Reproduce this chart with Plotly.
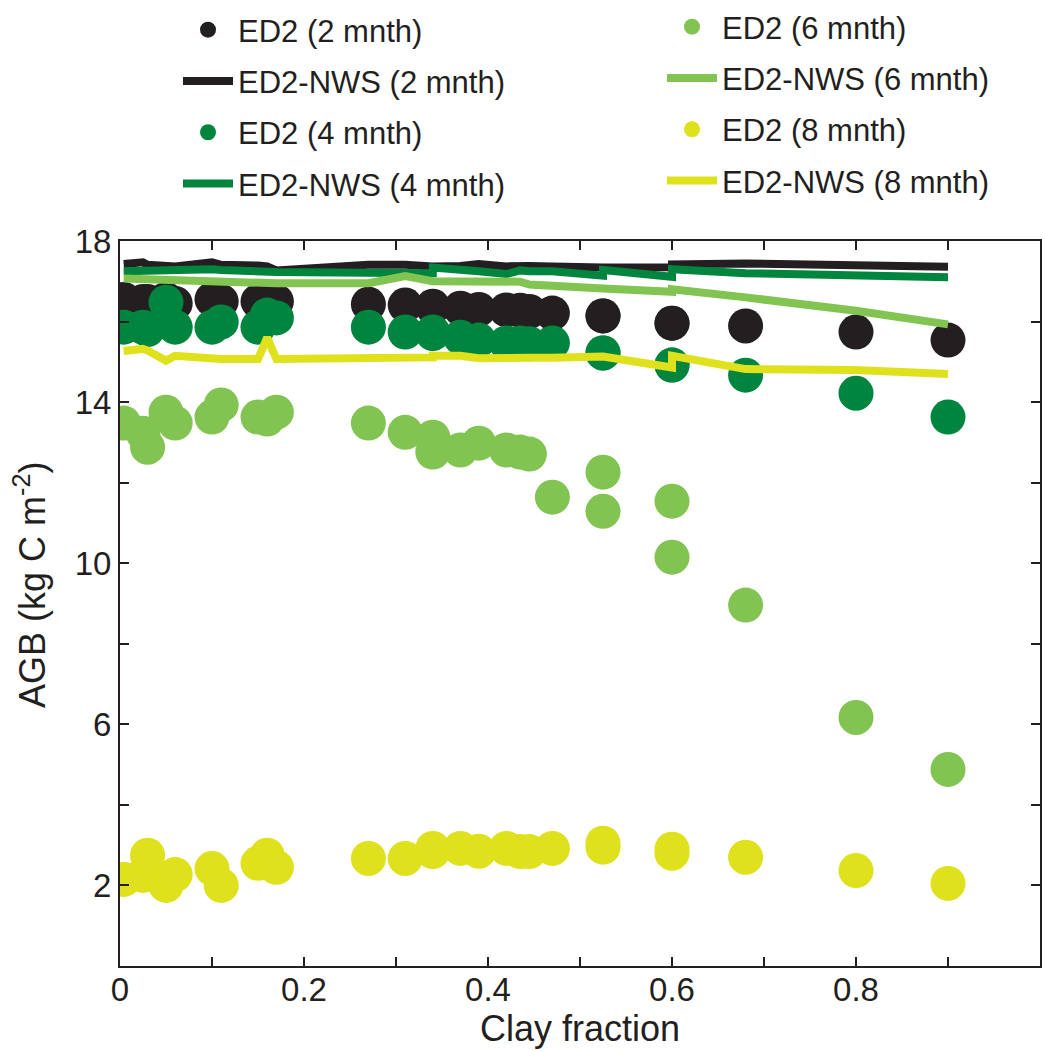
import plotly.graph_objects as go

# Clay fraction of each site
clay = [0.004, 0.025, 0.03, 0.05, 0.06, 0.10, 0.11, 0.15, 0.16, 0.17, 0.27, 0.31, 0.34, 0.34,
        0.37, 0.39, 0.42, 0.435, 0.445, 0.47, 0.525, 0.525, 0.60, 0.60, 0.68, 0.80, 0.90]

# ED2 (points)
ed2_2 = [16.55, 16.5, 16.5, 16.55, 16.45, 16.55, 16.5, 16.5, 16.5, 16.5, 16.43, 16.41, 16.38, 16.36,
         16.33, 16.3, 16.29, 16.28, 16.25, 16.21, 16.14, 16.14, 15.96, 15.96, 15.89, 15.74, 15.54]
ed2_4 = [15.86, 15.86, 15.8, 16.48, 15.86, 15.86, 15.99, 15.86, 16.16, 16.09, 15.86, 15.74, 15.74, 15.7,
         15.61, 15.54, 15.47, 15.47, 15.45, 15.47, 15.22, 15.22, 14.92, 14.92, 14.67, 14.22, 13.63]
ed2_6 = [13.48, 13.23, 12.88, 13.75, 13.48, 13.63, 13.93, 13.63, 13.58, 13.75, 13.48, 13.25, 13.13, 12.76,
         12.81, 12.98, 12.81, 12.76, 12.71, 11.64, 12.26, 11.29, 11.54, 10.15, 8.96, 6.17, 4.88]
ed2_8 = [2.15, 2.25, 2.75, 2.0, 2.27, 2.42, 2.0, 2.55, 2.75, 2.45, 2.67, 2.67, 2.92, 2.84,
         2.92, 2.85, 2.92, 2.84, 2.84, 2.92, 3.05, 2.95, 2.9, 2.8, 2.7, 2.37, 2.05]

# ED2-NWS (lines)
nws_2 = [17.43, 17.47, 17.41, 17.37, 17.37, 17.47, 17.41, 17.39, 17.37, 17.27, 17.41, 17.41, 17.37, 17.37,
         17.38, 17.43, 17.37, 17.39, 17.38, 17.37, 17.34, 17.34, 17.35, 17.42, 17.44, 17.37, 17.36]
nws_4 = [17.25, 17.27, 17.25, 17.25, 17.27, 17.3, 17.28, 17.25, 17.23, 17.23, 17.21, 17.21, 17.2, 17.34,
         17.26, 17.25, 17.18, 17.27, 17.25, 17.25, 17.14, 17.28, 17.11, 17.3, 17.2, 17.15, 17.1]
nws_6 = [17.07, 17.05, 17.04, 17.02, 17.02, 17.01, 17.0, 16.97, 16.95, 16.95, 16.95, 17.13, 17.0, 17.0,
         16.99, 17.0, 16.99, 16.99, 16.92, 16.88, 16.82, 16.82, 16.74, 16.8, 16.6, 16.27, 15.93]
nws_8 = [15.27, 15.32, 15.28, 15.03, 15.15, 15.1, 15.07, 15.07, 15.6, 15.07, 15.07, 15.07, 15.11, 15.15,
         15.15, 15.09, 15.07, 15.1, 15.1, 15.1, 15.13, 15.13, 14.86, 15.15, 14.82, 14.8, 14.7]

x_major = [0, 0.2, 0.4, 0.6, 0.8, 1.0]
x_labels = ["0", "0.2", "0.4", "0.6", "0.8", "1"]
x_minor = [0.1, 0.3, 0.5, 0.7, 0.9]
y_major = [2, 6, 10, 14, 18]
y_labels = ["2", "6", "10", "14", "18"]
y_minor = [4, 8, 12, 16]

BLACK = "#231f20"
DGREEN = "#00853f"
LGREEN = "#82c452"
YELLOW = "#dfe11c"

fig = go.Figure()

series = [
    ("ED2 (2 mnth)", "ED2-NWS (2 mnth)", ed2_2, nws_2, BLACK, "legend"),
    ("ED2 (4 mnth)", "ED2-NWS (4 mnth)", ed2_4, nws_4, DGREEN, "legend"),
    ("ED2 (6 mnth)", "ED2-NWS (6 mnth)", ed2_6, nws_6, LGREEN, "legend2"),
    ("ED2 (8 mnth)", "ED2-NWS (8 mnth)", ed2_8, nws_8, YELLOW, "legend2"),
]

# points first
for i, (pname, lname, pv, lv, col, leg) in enumerate(series):
    fig.add_trace(go.Scatter(x=clay, y=pv, mode="markers", name=pname,
                             marker=dict(size=35, color=col, line=dict(width=0)),
                             legend=leg, legendgroup=pname, legendrank=10 * i + 1))
# lines on top
for i, (pname, lname, pv, lv, col, leg) in enumerate(series):
    fig.add_trace(go.Scatter(x=clay, y=lv, mode="lines", name=lname,
                             line=dict(color=col, width=8),
                             legend=leg, legendgroup=lname, legendrank=10 * i + 2))

font_family = "Liberation Sans, Arial, Helvetica, sans-serif"

PL, PR, PT, PB = 120, 1040, 241, 966


def px_x(p):
    return (p - PL) / (PR - PL)


def px_y(p):
    return (PB - p) / (PB - PT)


legend_common = dict(
    font=dict(size=31, color=BLACK, family=font_family),
    bgcolor="rgba(0,0,0,0)",
    borderwidth=0,
    tracegroupgap=8,
    xanchor="left", yanchor="top",
    itemwidth=50,
)

fig.update_layout(
    width=1045, height=1051,
    margin=dict(l=PL, r=1045 - PR, t=PT, b=1051 - PB, autoexpand=False),
    plot_bgcolor="white", paper_bgcolor="white",
    font=dict(family=font_family, color=BLACK),
    showlegend=True,
    legend=dict(x=px_x(178), y=px_y(3), **legend_common),
    legend2=dict(x=px_x(662), y=px_y(0), **legend_common),
    annotations=[dict(text="AGB (kg C m<sup>-2</sup>)", textangle=-90,
                      xref="paper", yref="paper", x=px_x(30), y=px_y(585),
                      xanchor="center", yanchor="middle", showarrow=False,
                      font=dict(size=36, color=BLACK, family=font_family))],
)

axis_common = dict(
    showline=True, linecolor=BLACK, linewidth=2, mirror="ticks",
    ticks="inside", ticklen=9, tickwidth=1.5, tickcolor=BLACK,
    showgrid=False, zeroline=False, automargin=False,
    tickfont=dict(size=33, color=BLACK, family=font_family),
)

fig.update_xaxes(range=[0, 1], tickmode="array", tickvals=x_major, ticktext=x_labels,
                 tickangle=0, ticklabelstandoff=-7,
                 minor=dict(tickmode="array", tickvals=x_minor, ticks="inside", ticklen=9,
                            tickwidth=1.5, tickcolor=BLACK, showgrid=False),
                 title=dict(text="Clay fraction", font=dict(size=36, color=BLACK), standoff=8),
                 **axis_common)
fig.update_yaxes(range=[0, 18], tickmode="array", tickvals=y_major, ticktext=y_labels,
                 minor=dict(tickmode="array", tickvals=y_minor, ticks="inside", ticklen=9,
                            tickwidth=1.5, tickcolor=BLACK, showgrid=False),
                 **axis_common)

fig.write_html("out.html")
